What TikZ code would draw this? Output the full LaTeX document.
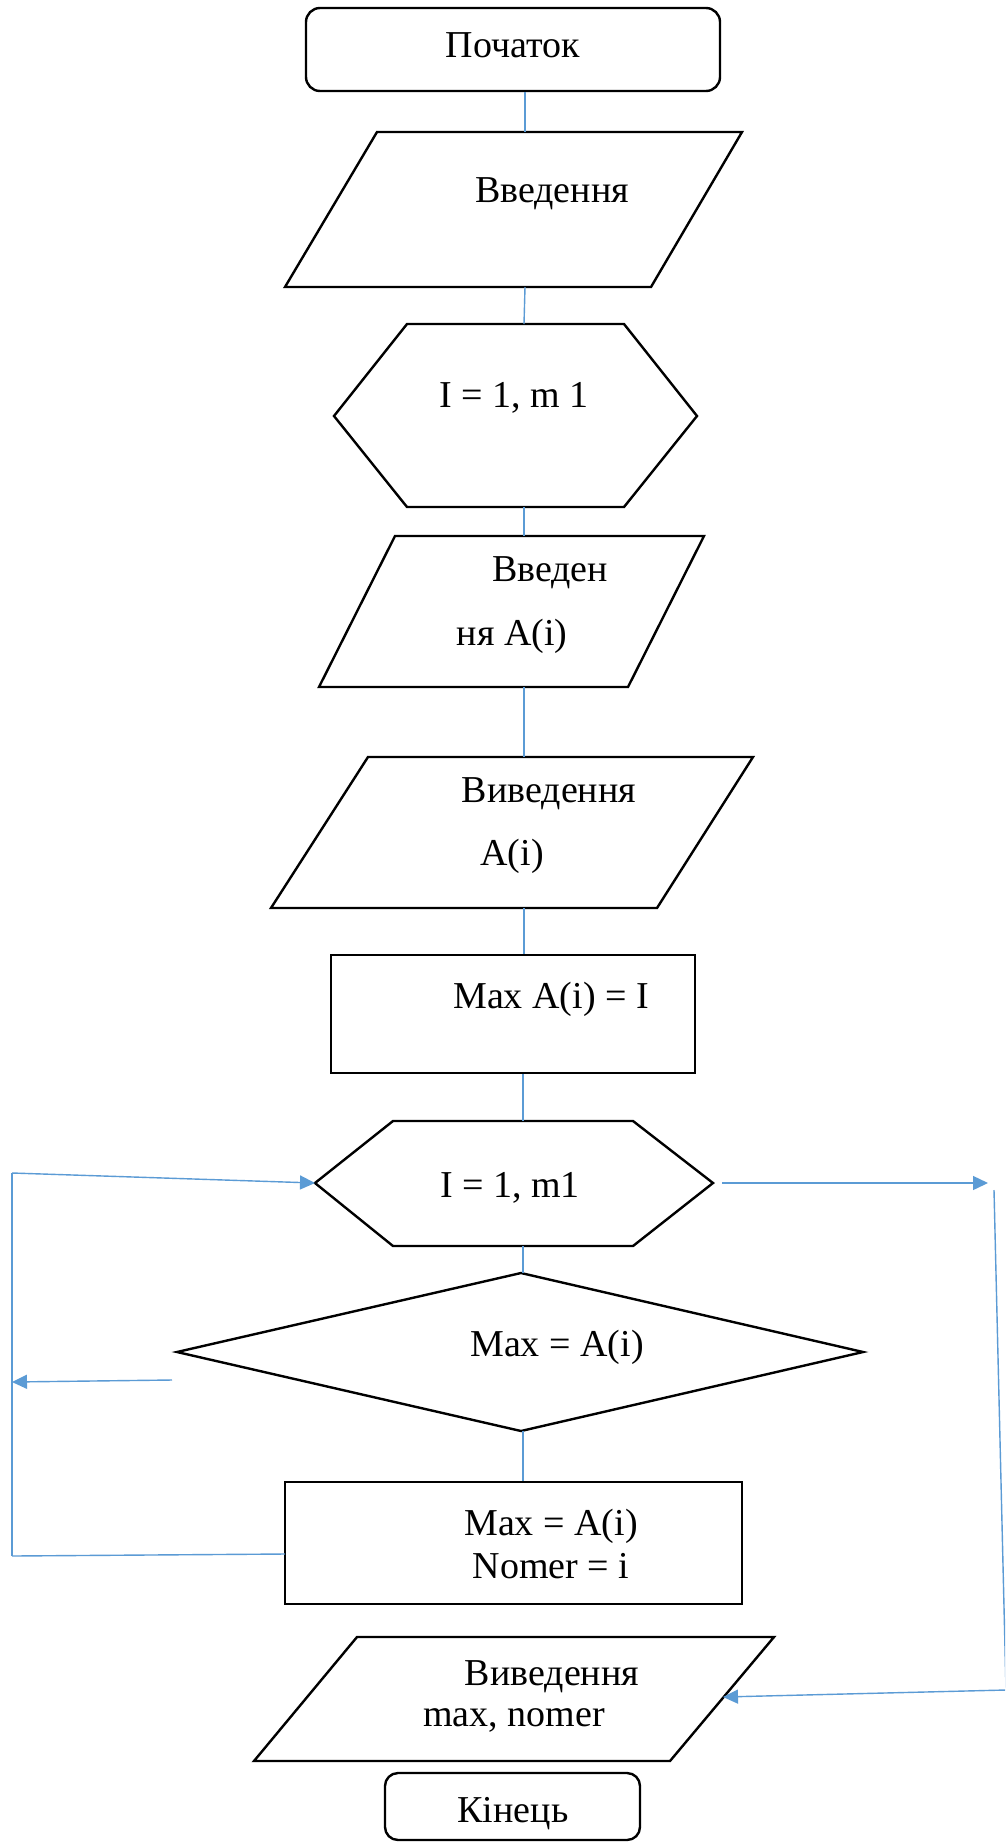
\documentclass[tikz,border=0pt]{standalone}
\usepackage{fontspec}
\setmainfont{Liberation Serif}
\usetikzlibrary{arrows.meta}
\definecolor{flowblue}{HTML}{5B9BD5}
\begin{document}
\begin{tikzpicture}[x=1pt,y=-1pt,line join=miter,
  box/.style={draw=black,line width=2.4pt,fill=white,inner sep=0pt},
  flow/.style={draw=flowblue,line width=1.4pt},
  flowarrow/.style={flow,-{Triangle[length=15pt,width=14pt]}},
  lbl/.style={anchor=base,inner sep=0pt,font=\fontsize{38}{44}\selectfont}]
\fill[white] (0,0) rectangle (1005,1848);
\clip (0,0) rectangle (1005,1848);
\coordinate (axis) at (524,0);

% ---- shapes ----
\node[box,rounded corners=14pt,minimum width=414pt,minimum height=83pt] (start) at (513,49.5) {};

\draw[box] (377,132) coordinate (in1tl) -- (742,132) -- (651,287) -- (285,287) -- cycle;
\coordinate (in1t) at (525,132);
\coordinate (in1b) at (525,287);

\draw[box] (334,416) -- (407,324) -- (624,324) -- (697,416) -- (624,507) -- (407,507) -- cycle;
\coordinate (hx1t) at (524,324);
\coordinate (hx1b) at (524,507);

\draw[box] (395,536) -- (704,536) -- (628,687) -- (319,687) -- cycle;
\coordinate (in2t) at (524,536);
\coordinate (in2b) at (524,687);

\draw[box] (368,757) -- (753,757) -- (657,908) -- (271,908) -- cycle;
\coordinate (out1t) at (524,757);
\coordinate (out1b) at (524,908);

\node[box,minimum width=364pt,minimum height=118pt] (maxinit) at (513,1014) {};

\draw[box] (315,1183) -- (393,1121) -- (633,1121) -- (713,1183) -- (633,1246) -- (393,1246) -- cycle;
\coordinate (hx2t) at (523,1121);
\coordinate (hx2b) at (523,1246);
\coordinate (hx2l) at (315,1183);
\coordinate (hx2r) at (722,1183);

\draw[box] (521,1273) -- (863,1352) -- (521,1431) -- (177,1352) -- cycle;
\coordinate (cmpt) at (523,1273);
\coordinate (cmpb) at (523,1431);
\coordinate (cmpl) at (172,1380);

\node[box,minimum width=457pt,minimum height=122pt] (assign) at (513.5,1543) {};
\coordinate (assignl) at (285,1554);

\draw[box] (357,1637) -- (774,1637) -- (670,1761) -- (254,1761) -- cycle;
\coordinate (out2r) at (723,1697);

\node[box,rounded corners=13pt,minimum width=255pt,minimum height=67pt] (finish) at (512.5,1806.5) {};

% ---- labels ----
\node[lbl] (tstart) at (513,57) {Початок};
\node[lbl] (tin1) at (552,202) {Введення};
\node[lbl] (thx1) at (514,407) {I = 1, m 1};
\node[lbl] (tin2a) at (550,581) {Введен};
\node[lbl] (tin2b) at (512,645) {ня A(i)};
\node[lbl] (tout1a) at (549,802) {Виведення};
\node[lbl] (tout1b) at (512,865) {A(i)};
\node[lbl] (tmaxinit) at (551,1008) {Max A(i) = I};
\node[lbl] (thx2) at (510,1197) {I = 1, m1};
\node[lbl] (tcmp) at (557,1356) {Max = A(i)};
\node[lbl] (tasg1) at (551,1535) {Max = A(i)};
\node[lbl] (tasg2) at (551,1578) {Nomer = i};
\node[lbl] (tout2a) at (552,1685) {Виведення};
\node[lbl] (tout2b) at (514,1726) {max, nomer};
\node[lbl] (tfinish) at (513,1822) {Кінець};

% ---- main flow ----
\draw[flow] (start.south -| in1t) -- (in1t);
\draw[flow] (in1b) -- (hx1t);
\draw[flow] (hx1b) -- (in2t);
\draw[flow] (in2b) -- (out1t);
\draw[flow] (out1b) -- (maxinit.north -| out1b);
\draw[flow] (maxinit.south -| hx2t) -- (hx2t);
\draw[flow] (hx2b) -- (cmpt);
\draw[flow] (cmpb) -- (assign.north -| cmpb);

% ---- loop return on the left ----
\coordinate (lt) at (12,1173);
\coordinate (lm) at (12,1382);
\coordinate (lb) at (12,1556);
\draw[flow] (lt) -- (lb);
\draw[flowarrow] (lt) -- (hx2l);
\draw[flowarrow] (cmpl) -- (lm);
\draw[flow] (assignl) -- (lb);

% ---- loop exit on the right ----
\coordinate (rt) at (988,1183);
\coordinate (rv) at (994,1190);
\coordinate (rb) at (1006,1690);
\draw[flowarrow] (hx2r) -- (rt);
\draw[flow] (rv) -- (rb);
\draw[flowarrow] (rb) -- (out2r);
\end{tikzpicture}
\end{document}
